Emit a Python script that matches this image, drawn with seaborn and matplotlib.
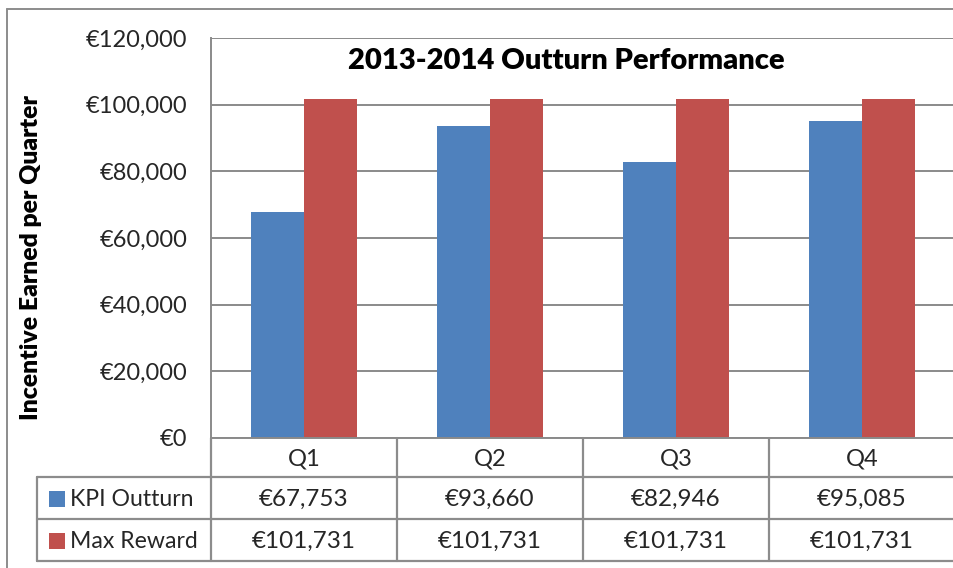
import matplotlib
matplotlib.use("Agg")
import matplotlib.pyplot as plt
from matplotlib.lines import Line2D
from matplotlib.patches import Rectangle
import seaborn as sns
import pandas as pd

quarters = ["Q1", "Q2", "Q3", "Q4"]
series_names = ["KPI Outturn", "Max Reward"]
kpi_outturn = [67753, 93660, 82946, 95085]
max_reward = [101731, 101731, 101731, 101731]
y_ticks = [0, 20000, 40000, 60000, 80000, 100000, 120000]
title = "2013-2014 Outturn Performance"
y_label = "Incentive Earned per Quarter"
colors = ["#4F81BD", "#C0504D"]

sns.set_theme(style="white")
plt.rcParams["font.family"] = ["Lato", "DejaVu Sans"]

W, H = 954, 568
fig = plt.figure(figsize=(W / 100, H / 100), dpi=100)
fig.patch.set_facecolor("white")

def px(x):
    return x / W

def py(y):
    return 1 - y / H

# axes from x=211..955, y=38..438
ax = fig.add_axes([px(211), py(438), (955 - 211) / W, (438 - 38) / H])

df = pd.DataFrame({
    "Quarter": quarters * 2,
    "Series": [series_names[0]] * 4 + [series_names[1]] * 4,
    "Value": kpi_outturn + max_reward,
})
sns.barplot(data=df, x="Quarter", y="Value", hue="Series", palette=colors,
            width=0.565, ax=ax, legend=False, saturation=1, errorbar=None,
            linewidth=0)

grid_c = "#8a8a8a"
ax.set_ylim(0, 120000)
ax.set_xlim(-0.5, 3.5)
ax.set_yticks(y_ticks)
ax.set_yticklabels([f"€{v:,.0f}" for v in y_ticks], fontsize=17)
ax.set_xticks([])
ax.set_xlabel("")
ax.set_ylabel("")
ax.tick_params(axis="y", length=0, pad=17)
ax.yaxis.grid(True, color=grid_c, linewidth=1.4)
ax.set_axisbelow(True)
for s in ["top", "right"]:
    ax.spines[s].set_visible(False)
for s in ["left", "bottom"]:
    ax.spines[s].set_color(grid_c)
    ax.spines[s].set_linewidth(1.4)

ax.text(0.477, 0.943, title, transform=ax.transAxes, ha="center", va="center",
        fontsize=21, fontweight="heavy", color="black")

fig.text(px(31), py(258), y_label, rotation=90, ha="center", va="center",
         fontsize=17.8, fontweight="heavy", color="black")

# outer chart border
fig.add_artist(Line2D([px(7), px(7)], [py(9), 0], color="#8c8c8c", lw=1.4))
fig.add_artist(Line2D([px(7), 1], [py(9), py(9)], color="#8c8c8c", lw=1.4))

# data table
tc = "#8c8c8c"
col_edges = [211, 397, 583, 769, 955]
row_y = [438, 477, 519, 561]
for x in col_edges:
    fig.add_artist(Line2D([px(x), px(x)], [py(438), py(561)], color=tc, lw=1.6))
fig.add_artist(Line2D([px(37), px(37)], [py(477), py(561)], color=tc, lw=1.6))
for y in row_y[1:]:
    fig.add_artist(Line2D([px(37), px(955)], [py(y), py(y)], color=tc, lw=1.6))

centers = [(col_edges[i] + col_edges[i + 1]) / 2 for i in range(4)]
for c, q in zip(centers, quarters):
    fig.text(px(c), py(459), q, ha="center", va="center", fontsize=17)
rows = [kpi_outturn, max_reward]
row_centers = [499, 541]
for r, vals in enumerate(rows):
    for c, v in zip(centers, vals):
        fig.text(px(c), py(row_centers[r]), f"€{v:,.0f}", ha="center",
                 va="center", fontsize=17.5)
    fig.add_artist(Rectangle((px(49), py(row_centers[r] + 8)), 16 / W, 16 / H,
                             transform=fig.transFigure, color=colors[r], lw=0))
    fig.text(px(70), py(row_centers[r]), series_names[r], ha="left",
             va="center", fontsize=16.6)

fig.savefig("out.png", dpi=100)
